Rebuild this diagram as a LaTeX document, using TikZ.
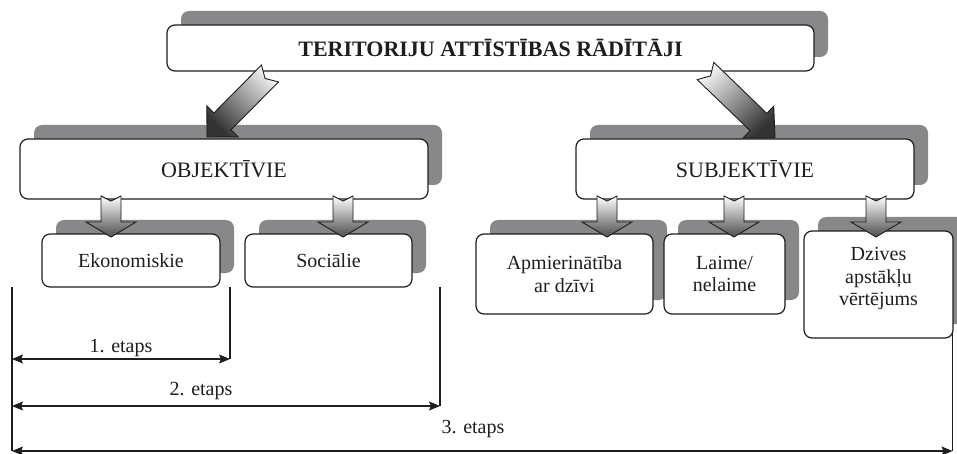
\documentclass[tikz,border=0pt]{standalone}
\usepackage{fontspec}
\setmainfont{Liberation Serif}
\usetikzlibrary{calc,shadows,arrows.meta}
\definecolor{shgray}{RGB}{136,136,138}
\definecolor{ink}{RGB}{30,30,30}
\newcommand\blockarr[7][]{%
  \coordinate (bh) at ($(#3)!#6!(#2)$);
  \coordinate (bn) at ($(#2)!#7!(#3)$);
  \draw[#1] ($(#2)!#4!90:(#3)$) -- ($(bh)!#4!90:(#3)$) -- ($(bh)!#5!90:(#3)$) -- (#3)
    -- ($(bh)!#5!-90:(#3)$) -- ($(bh)!#4!-90:(#3)$) -- ($(#2)!#4!-90:(#3)$) -- (bn) -- cycle;
}
\begin{document}
\begin{tikzpicture}[x=1pt,y=-1pt,
  box/.style={draw=ink, line width=1.2pt, fill=white, rounded corners=8pt, inner sep=0pt,
    align=center, text=ink,
    drop shadow={shadow xshift=14pt, shadow yshift=14pt, fill=shgray, opacity=1}},
  bigfont/.style={font=\fontsize{22}{26}\selectfont},
  smallfont/.style={font=\fontsize{20}{22.5}\selectfont},
  dim/.style={draw=ink, line width=1.1pt},
  dimarr/.style={dim, {Stealth[length=11pt,width=9pt,inset=2pt]}-{Stealth[length=11pt,width=9pt,inset=2pt]}},
  bigarrow/.style={draw=ink, line width=0.9pt, top color=gray!12, bottom color=black!80},
  smallarrow/.style={draw=ink, line width=0.9pt, top color=white, bottom color=black!70}]
\useasboundingbox[fill=white] (0,0) rectangle (957,454);

% dimension lines
\coordinate (v0) at (12,287);
\coordinate (v1) at (230,287);
\coordinate (v2) at (440,287);
\coordinate (v3) at (952.5,320);
\coordinate (b1l) at (12,359);
\coordinate (b1r) at (230,359);
\coordinate (b2l) at (12,406);
\coordinate (b2r) at (440,406);
\coordinate (b3l) at (12,451);
\coordinate (b3r) at (952.5,451);
\draw[dim] (v0) -- (b3l);
\draw[dim] (v1) -- (b1r);
\draw[dim] (v2) -- (b2r);
\draw[dim] (v3) -- (b3r);
\draw[dimarr] (b1l) -- (b1r);
\draw[dimarr] (b2l) -- (b2r);
\draw[dimarr] (b3l) -- (b3r);
\node[smallfont, text=ink, anchor=base] (l1) at (121,352) {1. etaps};
\node[smallfont, text=ink, anchor=base] (l2) at (201,395) {2. etaps};
\node[smallfont, text=ink, anchor=base] (l3) at (473,433) {3. etaps};

% boxes
\node[box, bigfont, minimum width=647pt, minimum height=46pt] (top) at (490.5,48)
  {\bfseries TERITORIJU ATTĪSTĪBAS RĀDĪTĀJI};
\node[box, bigfont, minimum width=408pt, minimum height=60pt] (obj) at (224,169) {OBJEKTĪVIE};
\node[box, bigfont, minimum width=338pt, minimum height=60pt] (subj) at (745,169) {SUBJEKTĪVIE};
\node[box, smallfont, minimum width=178pt, minimum height=53pt] (ek) at (131,260.5) {Ekonomiskie};
\node[box, smallfont, minimum width=167pt, minimum height=53pt] (soc) at (328.5,260.5) {Sociālie};
\node[box, smallfont, minimum width=177pt, minimum height=80pt] (apm) at (564.5,274) {Apmierinātība\\ar dzīvi};
\node[box, smallfont, minimum width=121pt, minimum height=80pt] (lai) at (724.5,274) {Laime/\\nelaime};
\node[box, smallfont, minimum width=149pt, minimum height=107pt] (dz) at (878.5,284.5) {Dzives\\apstākļu\\vērtējums\\[-14pt]\strut};

% big arrows
\coordinate (a1t) at (270,73.5);
\coordinate (a1p) at (207,137);
\coordinate (a2t) at (705.5,71);
\coordinate (a2p) at (775,138);
\blockarr[bigarrow, shading angle=-45]{a1t}{a1p}{12pt}{22pt}{22pt}{7pt}
\blockarr[bigarrow, shading angle=45]{a2t}{a2p}{12pt}{22pt}{23pt}{7pt}

% small arrows
\foreach \n/\x in {s1/111, s2/343, s3/607, s4/734, s5/876}{
  \coordinate (\n t) at (\x,196);
  \coordinate (\n p) at (\x,237);
  \blockarr[smallarrow]{\n t}{\n p}{10pt}{25pt}{15pt}{5pt}
}
\end{tikzpicture}
\end{document}
